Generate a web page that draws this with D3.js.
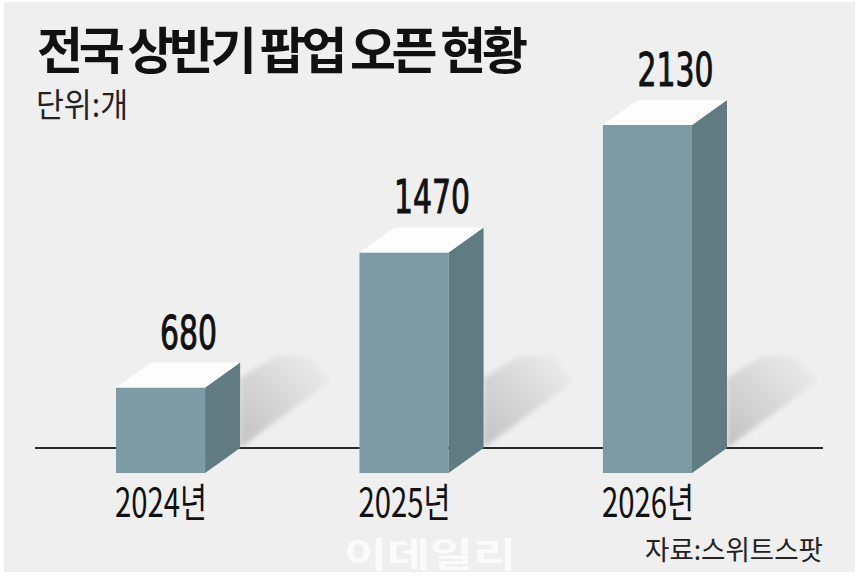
<!DOCTYPE html>
<html><head><meta charset="utf-8">
<script src="https://cdn.jsdelivr.net/npm/d3@7/dist/d3.min.js"></script>
<style>html,body{margin:0;padding:0;background:#fff;}svg{display:block;}</style>
</head><body>
<svg id="c" width="860" height="582"></svg>
<script>
const years = ["2024", "2025", "2026"];
const xLabels = ["2024년", "2025년", "2026년"];
const values = [680, 1470, 2130];
const valueLabels = ["680", "1470", "2130"];
const title = "전국 상반기 팝업 오픈 현황";
const unitText = "단위:개";
const sourceText = "자료:스위트스팟";

const svg = d3.select("#c");
const DX = 35, DY = 25;
const baseY = 473;

svg.append("rect").attr("x", 4).attr("y", 2).attr("width", 851).attr("height", 570).attr("fill", "#efefef");

const defs = svg.append("defs");
const grad = defs.append("linearGradient").attr("id", "sh")
  .attr("x1", 0).attr("y1", 1).attr("x2", 1).attr("y2", 0);
grad.append("stop").attr("offset", 0).attr("stop-color", "#c2c2c2");
grad.append("stop").attr("offset", 0.55).attr("stop-color", "#dadada");
grad.append("stop").attr("offset", 1).attr("stop-color", "#efefef");
defs.append("filter").attr("id", "blur").attr("x", "-20%").attr("y", "-20%").attr("width", "140%").attr("height", "140%")
  .append("feGaussianBlur").attr("stdDeviation", 2.5);

const x = d3.scaleBand().domain(years).range([116, 692]).paddingInner(0.634).paddingOuter(0);
const h = d3.scalePow().exponent(1.23).domain([0, 2130]).range([0, 348]);
const bw = x.bandwidth();

const data = years.map((y, i) => ({ year: y, value: values[i], label: valueLabels[i], xl: xLabels[i] }));

// shadows
svg.selectAll("path.shadow").data(data).join("path").attr("class", "shadow")
  .attr("d", d => {
    const sx = x(d.year) + bw + DX;
    const by = baseY - DY;
    return d3.line()([[sx, by], [sx, by - 70], [sx + 36, by - 92], [sx + 70, by - 92], [sx + 90, by - 67]]) + "Z";
  })
  .attr("fill", "url(#sh)").attr("filter", "url(#blur)");

// axis line
svg.append("line").attr("x1", 35).attr("x2", 823).attr("y1", baseY - DY).attr("y2", baseY - DY)
  .attr("stroke", "#2a2a2a").attr("stroke-width", 2);

const g = svg.selectAll("g.bar").data(data).join("g").attr("class", "bar");
// front
g.append("rect").attr("x", d => x(d.year)).attr("y", d => baseY - h(d.value))
  .attr("width", bw).attr("height", d => h(d.value)).attr("fill", "#7c9ba5");
// side
g.append("path").attr("d", d => {
  const x0 = x(d.year) + bw, t = baseY - h(d.value);
  return d3.line()([[x0, t], [x0 + DX, t - DY], [x0 + DX, baseY - DY], [x0, baseY]]) + "Z";
}).attr("fill", "#607b81");
// top
g.append("path").attr("d", d => {
  const x0 = x(d.year), t = baseY - h(d.value);
  return d3.line()([[x0, t], [x0 + DX, t - DY], [x0 + bw + DX, t - DY], [x0 + bw, t]]) + "Z";
}).attr("fill", "#fdfdfd");

// value labels
g.append("text").attr("x", d => x(d.year) + bw / 2 + 28).attr("y", d => baseY - h(d.value) - 39)
  .attr("text-anchor", "middle")
  .attr("font-family", "'Liberation Sans Narrow','DejaVu Sans Condensed','Liberation Sans',sans-serif")
  .attr("font-size", 47).attr("font-weight", 400).attr("fill", "#111")
  .attr("stroke", "#111").attr("stroke-width", 1)
  .attr("textLength", d => d.label.length * 19).attr("lengthAdjust", "spacingAndGlyphs")
  .text(d => d.label);

// x labels
g.append("text").attr("x", d => x(d.year) - 1).attr("y", 517)
  .attr("font-family", "'Liberation Sans Narrow','Noto Sans CJK KR',sans-serif")
  .attr("font-size", 40).attr("fill", "#111")
  .attr("textLength", 92).attr("lengthAdjust", "spacingAndGlyphs")
  .text(d => d.xl);

// watermark
svg.append("text").attr("x", 430).attr("y", 567).attr("text-anchor", "middle")
  .attr("font-family", "'Noto Sans CJK KR',sans-serif").attr("font-weight", 700)
  .attr("font-size", 34).attr("fill", "#ffffff").attr("fill-opacity", 0.75)
  .attr("textLength", 172).attr("lengthAdjust", "spacingAndGlyphs")
  .text("이데일리");

// title
svg.append("text").attr("x", 37).attr("y", 69)
  .attr("font-family", "'Noto Sans CJK KR',sans-serif").attr("font-weight", 700)
  .attr("font-size", 50).attr("fill", "#111")
  .attr("textLength", 491).attr("lengthAdjust", "spacing")
  .text(title);

svg.append("text").attr("x", 36).attr("y", 117)
  .attr("font-family", "'Noto Sans CJK KR',sans-serif").attr("font-weight", 400)
  .attr("font-size", 33).attr("fill", "#222")
  .attr("textLength", 92).attr("lengthAdjust", "spacingAndGlyphs")
  .text(unitText);

svg.append("text").attr("x", 823).attr("y", 560).attr("text-anchor", "end")
  .attr("font-family", "'Noto Sans CJK KR',sans-serif").attr("font-weight", 400)
  .attr("font-size", 27).attr("fill", "#222")
  .attr("textLength", 178).attr("lengthAdjust", "spacingAndGlyphs")
  .text(sourceText);
</script>
</body></html>
